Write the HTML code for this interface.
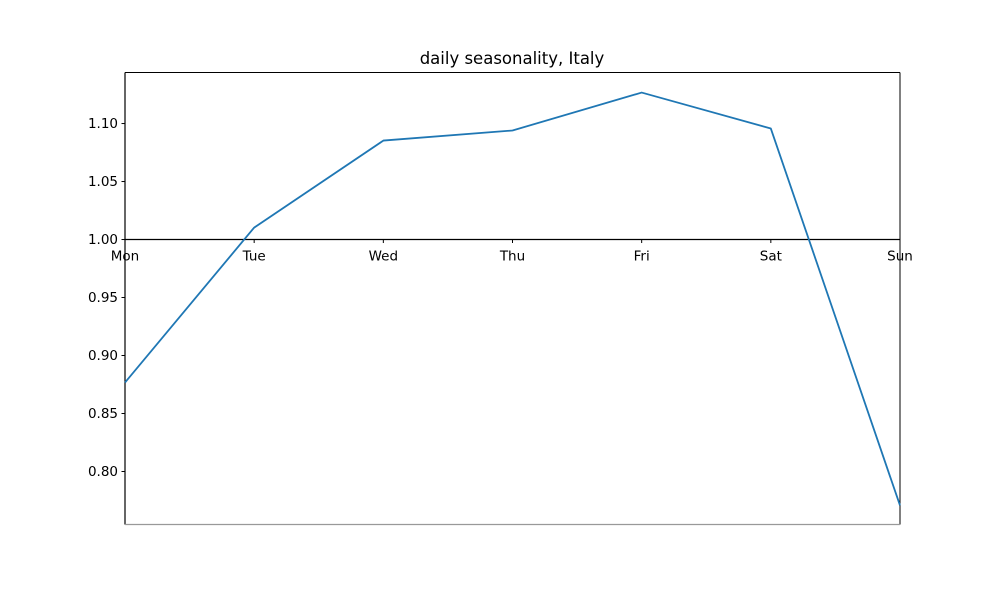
<!DOCTYPE html>
<html><head><meta charset="utf-8"><style>body{margin:0;background:#fff}svg{display:block}text{font-family:"DejaVu Sans","Liberation Sans",sans-serif;font-size:13.5px;fill:#000}</style></head>
<body>
<svg id="chart" width="1000" height="600">
<text x="512" y="64" text-anchor="middle" style="font-size:16.5px">daily seasonality, Italy</text>
<g id="g"></g>
</svg>
<script>
const categories=["Mon","Tue","Wed","Thu","Fri","Sat","Sun"];
const values=[0.8767,1.0103,1.0853,1.094,1.1267,1.0957,0.7707];
const yTicks=[0.80,0.85,0.90,0.95,1.00,1.05,1.10];
const L=125,R=900,T=72.5,B=524.5,yMin=0.7543,yMax=1.144;
const x=i=>L+(R-L)*i/(categories.length-1);
const y=v=>B-(v-yMin)/(yMax-yMin)*(B-T);
const g=document.getElementById('g');const NS='http://www.w3.org/2000/svg';
function mk(t,a,p){const e=document.createElementNS(NS,t);for(const k in a)e.setAttribute(k,a[k]);(p||g).appendChild(e);return e;}
let e;
e=mk('line',{x1:L,y1:T,x2:R,y2:T,stroke:'#000','stroke-width':1});


e=mk('line',{x1:R,y1:T,x2:R,y2:B,stroke:'#000','stroke-width':1});


e=mk('line',{x1:L,y1:T,x2:L,y2:B,stroke:'#000','stroke-width':1.2});


e=mk('line',{x1:L,y1:B,x2:R,y2:B,stroke:'#999','stroke-width':1.2});


const y1=y(1);
e=mk('line',{x1:L,y1:y1,x2:R,y2:y1,stroke:'#000','stroke-width':1.2});


yTicks.forEach(v=>{const yy=y(v);
 e=mk('line',{x1:L-3.5,y1:yy,x2:L,y2:yy,stroke:'#000','stroke-width':1});
 
 
 e=mk('text',{x:L-7,y:yy+4.5,'text-anchor':'end'});e.textContent=v.toFixed(2);
 
 
});
categories.forEach((c,i)=>{const xx=x(i);
 e=mk('line',{x1:xx,y1:y1,x2:xx,y2:y1+3.5,stroke:'#000','stroke-width':1});
 
 
 e=mk('text',{x:xx,y:y1+21,'text-anchor':'middle'});e.textContent=c;
 
 
});
e=mk('polyline',{points:values.map((v,i)=>x(i)+','+y(v)).join(' '),fill:'none',stroke:'#1f77b4','stroke-width':1.8,'stroke-linejoin':'round'});


</script>
</body></html>
